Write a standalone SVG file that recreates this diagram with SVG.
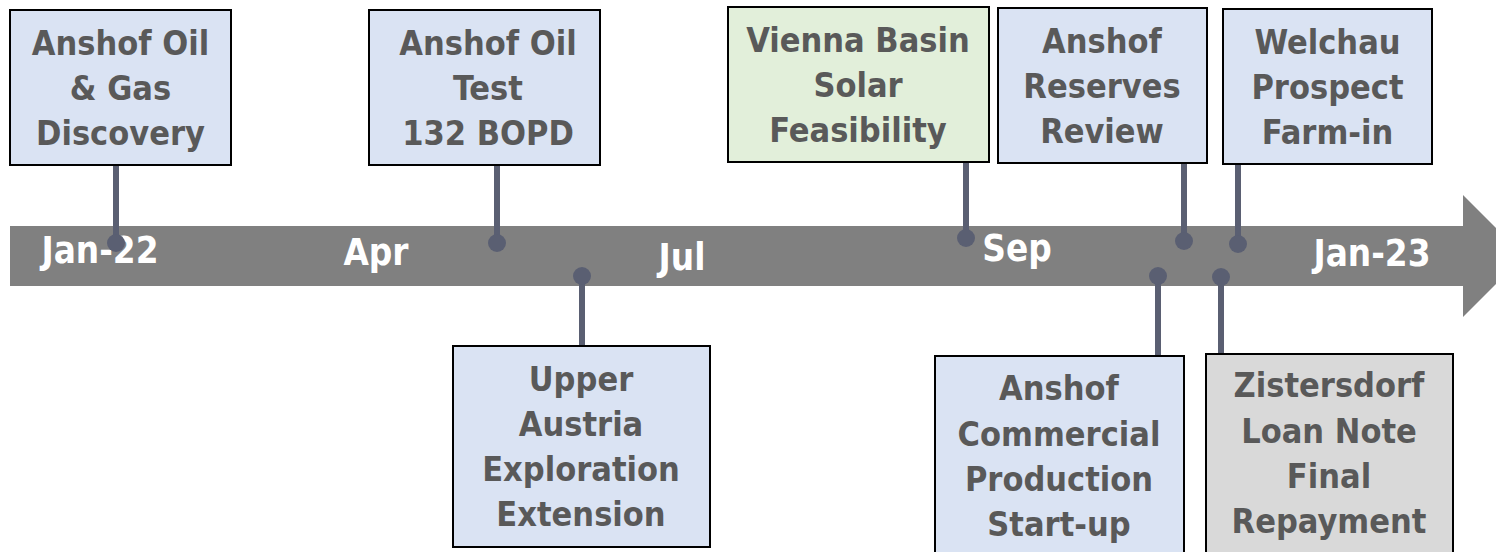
<svg xmlns="http://www.w3.org/2000/svg" width="1496" height="552" viewBox="0 0 1496 552">
<style>
.box{stroke:#000;stroke-width:2}
.blue{fill:#dae3f3}
.green{fill:#e2efda}
.gray{fill:#d9d9d9}
.t{font-family:"DejaVu Sans Condensed","DejaVu Sans",sans-serif;font-weight:bold;font-size:34px;fill:#595959;text-anchor:middle}
.ax{font-family:"DejaVu Sans Condensed","DejaVu Sans",sans-serif;font-weight:bold;font-size:36.5px;fill:#ffffff;text-anchor:middle}
.con{stroke:#5a5f72;stroke-width:6;fill:none}
.dot{fill:#5a5f72}
</style>
<rect width="1496" height="552" fill="#ffffff"/>
<g id="axis">
<polygon points="10,226 1463,226 1463,195 1524,256 1463,317 1463,286 10,286" fill="#808080"/>
<text class="ax" x="100" y="263">Jan-22</text>
<text class="ax" x="376" y="265">Apr</text>
<text class="ax" x="682" y="270">Jul</text>
<text class="ax" x="1017" y="261">Sep</text>
<text class="ax" x="1372" y="266">Jan-23</text>
</g>
<g id="connectors">
<line class="con" x1="116" y1="165" x2="116" y2="243"/><circle class="dot" cx="116" cy="243" r="9"/>
<line class="con" x1="497" y1="165" x2="497" y2="243"/><circle class="dot" cx="497" cy="243" r="9"/>
<line class="con" x1="582" y1="276" x2="582" y2="346"/><circle class="dot" cx="582" cy="276" r="9"/>
<line class="con" x1="966" y1="162" x2="966" y2="238"/><circle class="dot" cx="966" cy="238" r="9"/>
<line class="con" x1="1184" y1="163" x2="1184" y2="241"/><circle class="dot" cx="1184" cy="241" r="9"/>
<line class="con" x1="1238" y1="164" x2="1238" y2="244"/><circle class="dot" cx="1238" cy="244" r="9"/>
<line class="con" x1="1158" y1="276" x2="1158" y2="356"/><circle class="dot" cx="1158" cy="276" r="9"/>
<line class="con" x1="1221" y1="277" x2="1221" y2="354"/><circle class="dot" cx="1221" cy="277" r="9"/>
</g>
<g id="n1">
<rect class="box blue" x="10" y="10" width="221" height="155"/>
<text class="t" x="120.5" y="55">Anshof Oil</text>
<text class="t" x="120.5" y="100">&amp; Gas</text>
<text class="t" x="120.5" y="145">Discovery</text>
</g>
<g id="n2">
<rect class="box blue" x="369" y="10" width="231" height="155"/>
<text class="t" x="488" y="55">Anshof Oil</text>
<text class="t" x="488" y="100">Test</text>
<text class="t" x="488" y="145">132 BOPD</text>
</g>
<g id="n3">
<rect class="box blue" x="453" y="346" width="257" height="201"/>
<text class="t" x="581" y="391">Upper</text>
<text class="t" x="581" y="436">Austria</text>
<text class="t" x="581" y="481">Exploration</text>
<text class="t" x="581" y="526">Extension</text>
</g>
<g id="n4">
<rect class="box green" x="728" y="7" width="261" height="155"/>
<text class="t" x="858" y="52">Vienna Basin</text>
<text class="t" x="858" y="97">Solar</text>
<text class="t" x="858" y="142">Feasibility</text>
</g>
<g id="n5">
<rect class="box blue" x="998" y="8" width="209" height="155"/>
<text class="t" x="1102" y="53">Anshof</text>
<text class="t" x="1102" y="98">Reserves</text>
<text class="t" x="1102" y="143">Review</text>
</g>
<g id="n6">
<rect class="box blue" x="1223" y="9" width="209" height="155"/>
<text class="t" x="1327.5" y="54">Welchau</text>
<text class="t" x="1327.5" y="99">Prospect</text>
<text class="t" x="1327.5" y="144">Farm-in</text>
</g>
<g id="n7">
<rect class="box blue" x="935" y="356" width="249" height="210"/>
<text class="t" x="1059" y="400">Anshof</text>
<text class="t" x="1059" y="446">Commercial</text>
<text class="t" x="1059" y="491">Production</text>
<text class="t" x="1059" y="536">Start-up</text>
</g>
<g id="n8">
<rect class="box gray" x="1206" y="354" width="247" height="210"/>
<text class="t" x="1329" y="397">Zistersdorf</text>
<text class="t" x="1329" y="443">Loan Note</text>
<text class="t" x="1329" y="488">Final</text>
<text class="t" x="1329" y="533">Repayment</text>
</g>
</svg>
